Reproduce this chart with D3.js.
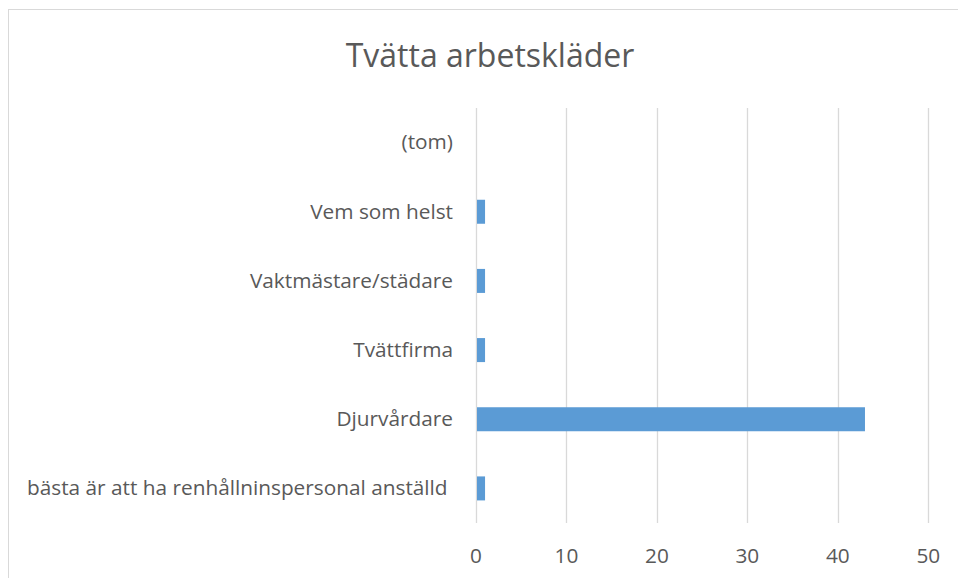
<!DOCTYPE html>
<html>
<head>
<meta charset="utf-8">
<script src="https://cdn.jsdelivr.net/npm/d3@7"></script>
<style>
  body { margin: 0; background: #fff; }
  text { font-family: "Open Sans", sans-serif; fill: #595959; white-space: pre; }
</style>
</head>
<body>
<div id="chart"></div>
<script>
const title = "Tvätta arbetskläder";
const categories = ["(tom)", "Vem som helst", "Vaktmästare/städare", "Tvättfirma", "Djurvårdare", "bästa är att ha renhållninspersonal anställd "];
const counts = [0, 1, 1, 1, 43, 1];
const xTicks = [0, 10, 20, 30, 40, 50];

const width = 958, height = 578;
const plot = { left: 476, right: 928.3, top: 108, bottom: 523 };

const svg = d3.select("#chart").append("svg")
  .attr("width", width)
  .attr("height", height);

// chart frame (runs off the right and bottom edge)
svg.append("rect")
  .attr("x", 8.5).attr("y", 9.5)
  .attr("width", 962).attr("height", 600)
  .attr("fill", "none")
  .attr("stroke", "#d9d9d9")
  .attr("stroke-width", 1);

svg.append("text")
  .attr("x", 490).attr("y", 66.5)
  .attr("text-anchor", "middle")
  .style("font-size", "32px")
  .text(title);

const x = d3.scaleLinear().domain([0, 50]).range([plot.left, plot.right]);
const y = d3.scaleBand().domain(categories).range([plot.top, plot.bottom])
  .paddingInner(0.653).paddingOuter(0.3265);

// gridlines
svg.append("g")
  .selectAll("line")
  .data(xTicks)
  .join("line")
  .attr("x1", d => Math.round(x(d)) + 0.5)
  .attr("x2", d => Math.round(x(d)) + 0.5)
  .attr("y1", plot.top)
  .attr("y2", plot.bottom)
  .attr("stroke", "#d9d9d9")
  .attr("stroke-width", 1.3);

// bars
svg.append("g")
  .selectAll("rect")
  .data(categories.map((c, i) => ({ c, v: counts[i] })))
  .join("rect")
  .attr("x", x(0) + 1)
  .attr("y", d => y(d.c))
  .attr("width", d => Math.max(0, x(d.v) - x(0) - 1))
  .attr("height", y.bandwidth())
  .attr("fill", "#5b9bd5");

// category labels
svg.append("g")
  .selectAll("text")
  .data(categories)
  .join("text")
  .attr("x", 453)
  .attr("y", d => y(d) + y.bandwidth() / 2)
  .attr("dy", "0.33em")
  .attr("text-anchor", "end")
  .style("font-size", "20.8px")
  .text(d => d);

// value axis labels
svg.append("g")
  .selectAll("text")
  .data(xTicks)
  .join("text")
  .attr("x", d => x(d))
  .attr("y", 562.5)
  .attr("text-anchor", "middle")
  .style("font-size", "20.8px")
  .text(d => d);
</script>
</body>
</html>
